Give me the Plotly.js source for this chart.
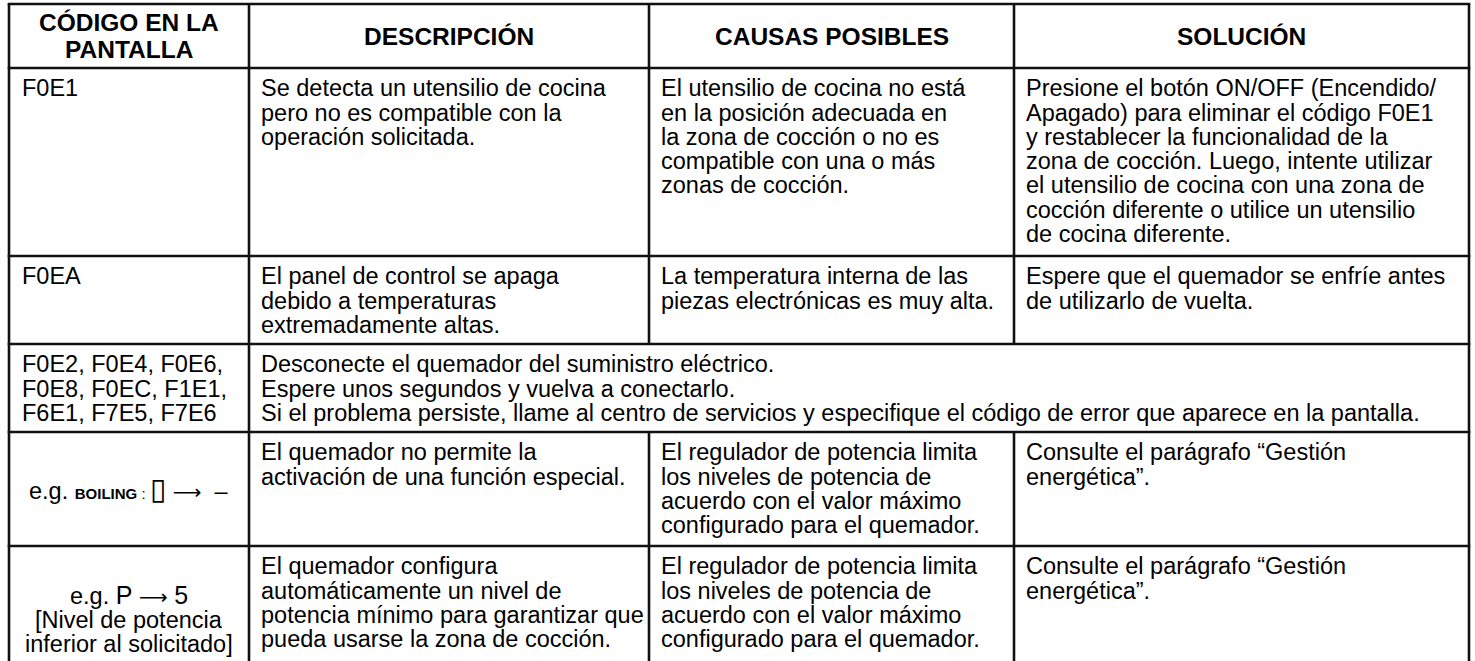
<!DOCTYPE html>
<html>
<head>
<meta charset="utf-8">
<script src="https://cdn.plot.ly/plotly-3.0.1.min.js"></script>
<style>html,body{margin:0;padding:0;background:#fff;}#chart{width:1475px;height:661px;}</style>
</head>
<body>
<div id="chart"></div>
<script>
// ---- table content (data) ----
const headerTexts = [["CÓDIGO EN LA", "PANTALLA"], ["DESCRIPCIÓN"], ["CAUSAS POSIBLES"], ["SOLUCIÓN"]];

const codeTexts = [
  ["F0E1"],
  ["F0EA"],
  ["F0E2, F0E4, F0E6,", "F0E8, F0EC, F1E1,", "F6E1, F7E5, F7E6"],
  ["e.g. <b><span style='font-size:15px'>BOILING</span></b><span style='font-size:15px'> : </span><span style='font-family:DejaVu Sans;font-size:30px'>▯</span> <span style='font-family:DejaVu Sans;font-size:20px'>⟶</span>  –"],
  ["e.g. <span style='font-size:25px'>P</span> <span style='font-family:DejaVu Sans;font-size:20px'>⟶</span> <span style='font-size:25px'>5</span>", "[Nivel de potencia", "inferior al solicitado]"]
];

const descTexts = [
  ["Se detecta un utensilio de cocina", "pero no es compatible con la", "operación solicitada."],
  ["El panel de control se apaga", "debido a temperaturas", "extremadamente altas."],
  null,
  ["El quemador no permite la", "activación de una función especial."],
  ["El quemador configura", "automáticamente un nivel de", "potencia mínimo para garantizar que", "pueda usarse la zona de cocción."]
];

const causeTexts = [
  ["El utensilio de cocina no está", "en la posición adecuada en", "la zona de cocción o no es", "compatible con una o más", "zonas de cocción."],
  ["La temperatura interna de las", "piezas electrónicas es muy alta."],
  null,
  ["El regulador de potencia limita", "los niveles de potencia de", "acuerdo con el valor máximo", "configurado para el quemador."],
  ["El regulador de potencia limita", "los niveles de potencia de", "acuerdo con el valor máximo", "configurado para el quemador."]
];

const solutionTexts = [
  ["Presione el botón ON/OFF (Encendido/", "Apagado) para eliminar el código F0E1", "y restablecer la funcionalidad de la", "zona de cocción. Luego, intente utilizar", "el utensilio de cocina con una zona de", "cocción diferente o utilice un utensilio", "de cocina diferente."],
  ["Espere que el quemador se enfríe antes", "de utilizarlo de vuelta."],
  null,
  ["Consulte el parágrafo “Gestión", "energética”."],
  ["Consulte el parágrafo “Gestión", "energética”."]
];

const mergedTexts = [null, null,
  ["Desconecte el quemador del suministro eléctrico.", "Espere unos segundos y vuelva a conectarlo.", "Si el problema persiste, llame al centro de servicios y especifique el código de error que aparece en la pantalla."],
  null, null];

// ---- layout geometry (not data) ----
const W = 1475, H = 661;
const colEdges = [9, 249, 649, 1014, 1469];
const rowEdges = [4, 68, 256, 344, 432, 546, 720];
const FS = 23.5, HFS = 24.5, PITCH = 24.3, FIRST = 28.5, PAD = 11;
const FONT = "Liberation Sans, Arial, Helvetica, sans-serif";
const INK = "#000000";

const shapes = [];
const lineStyle = {color: "#111111", width: 2.6};
rowEdges.slice(0, 6).forEach(y => shapes.push({type: "line", xref: "x", yref: "y", x0: colEdges[0] - 1.3, x1: colEdges[4] + 1.3, y0: y, y1: y, line: lineStyle}));
for (let r = 0; r < rowEdges.length - 1; r++) {
  colEdges.forEach((x, c) => {
    const inner = (c === 2 || c === 3);
    if (inner && r > 0 && mergedTexts[r - 1]) return; // merged row
    shapes.push({type: "line", xref: "x", yref: "y", x0: x, x1: x, y0: rowEdges[r], y1: rowEdges[r + 1], line: lineStyle});
  });
}

const annotations = [];
function addText(text, x, y, anchor, size, bold) {
  annotations.push({
    xref: "x", yref: "y", x: x, y: y, text: bold ? "<b>" + text + "</b>" : text,
    showarrow: false, xanchor: anchor, yanchor: "middle",
    font: {family: FONT, size: size, color: INK}, borderpad: 0
  });
}
// header
headerTexts.forEach((lines, c) => {
  const cx = (colEdges[c] + colEdges[c + 1]) / 2;
  const cy = (rowEdges[0] + rowEdges[1]) / 2;
  const n = lines.length, hp = 26.5;
  lines.forEach((t, i) => addText(t, cx, cy + (i - (n - 1) / 2) * hp, "center", HFS, true));
});
// body
const bodyCols = [descTexts, causeTexts, solutionTexts];
for (let r = 0; r < 5; r++) {
  const top = rowEdges[r + 1];
  const bottom = rowEdges[r + 2];
  const code = codeTexts[r];
  const cx = (colEdges[0] + colEdges[1]) / 2;
  if (r < 3) {
    code.forEach((t, i) => addText(t, colEdges[0] + PAD + 1, top + FIRST + i * PITCH - 0.35 * FS, "left", FS));
  } else if (r === 3) {
    addText(code[0], cx, (top + bottom) / 2 - 1, "center", FS);
  } else {
    const baselines = [603, 628.5, 652.5];
    code.forEach((t, i) => addText(t, cx, baselines[i] - 0.35 * FS, "center", FS));
  }
  if (mergedTexts[r]) {
    mergedTexts[r].forEach((t, i) => addText(t, colEdges[1] + PAD, top + FIRST + i * PITCH - 0.35 * FS, "left", FS));
  } else {
    bodyCols.forEach((col, k) => {
      col[r].forEach((t, i) => addText(t, colEdges[k + 1] + PAD, top + FIRST + i * PITCH - 0.35 * FS, "left", FS));
    });
  }
}

const layout = {
  width: W, height: H,
  margin: {l: 0, r: 0, t: 0, b: 0},
  paper_bgcolor: "#ffffff", plot_bgcolor: "#ffffff",
  xaxis: {range: [0, W], visible: false, fixedrange: true},
  yaxis: {range: [H, 0], visible: false, fixedrange: true},
  showlegend: false,
  shapes: shapes,
  annotations: annotations
};
Plotly.newPlot("chart", [{x: [], y: [], type: "scatter", mode: "markers", hoverinfo: "skip"}], layout, {staticPlot: true, displayModeBar: false});
</script>
</body>
</html>
